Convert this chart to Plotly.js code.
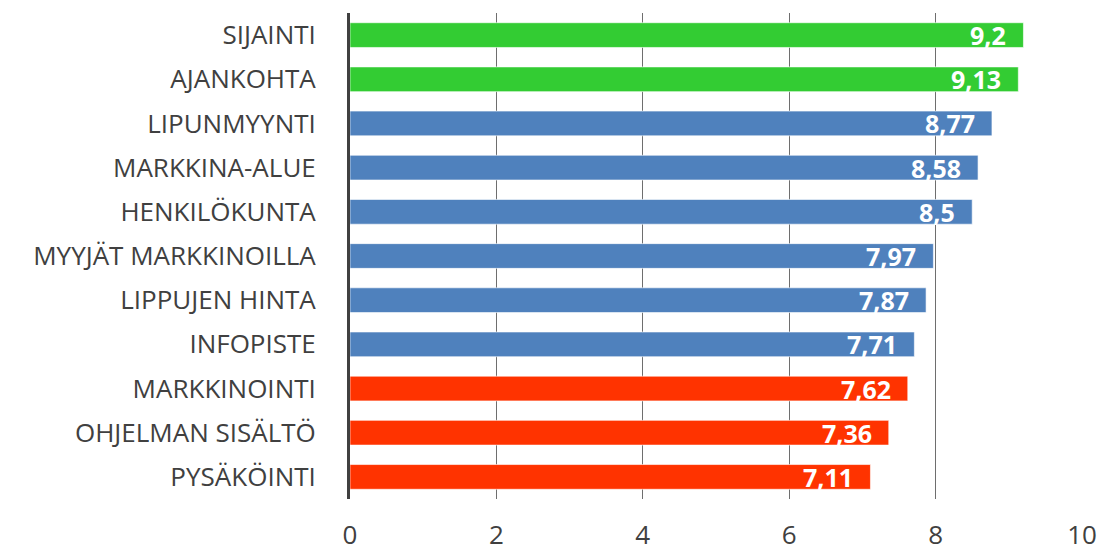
<!DOCTYPE html>
<html>
<head>
<meta charset="utf-8">
<script src="https://cdn.plot.ly/plotly-3.0.1.min.js"></script>
<style>
  html, body { margin: 0; padding: 0; background: #fff; }
  #chart { width: 1101px; height: 550px; }
</style>
</head>
<body>
<div id="chart"></div>
<script>
// Survey ratings per attribute (scale 0–10), top to bottom
const categories = [
  "SIJAINTI", "AJANKOHTA", "LIPUNMYYNTI", "MARKKINA-ALUE", "HENKILÖKUNTA",
  "MYYJÄT MARKKINOILLA", "LIPPUJEN HINTA", "INFOPISTE", "MARKKINOINTI",
  "OHJELMAN SISÄLTÖ", "PYSÄKÖINTI"
];
const scores = [9.2, 9.13, 8.77, 8.58, 8.5, 7.97, 7.87, 7.71, 7.62, 7.36, 7.11];
const valueLabels = ["9,2", "9,13", "8,77", "8,58", "8,5", "7,97", "7,87", "7,71", "7,62", "7,36", "7,11"];
const groups = ["top", "top", "mid", "mid", "mid", "mid", "mid", "mid", "low", "low", "low"];
const xTicks = [0, 2, 4, 6, 8, 10];

const groupColors = { top: "#33CC33", mid: "#4F81BD", low: "#FF3300" };
const FONT = "'Open Sans', Lato, sans-serif";

const trace = {
  type: "bar",
  orientation: "h",
  y: categories,
  x: scores,
  marker: {
    color: groups.map(g => groupColors[g]),
    line: { color: "rgba(255,255,255,0.6)", width: 1 }
  },
  width: 0.56,
  hoverinfo: "none"
};

// Value labels sit inside the bar end, in white bold
const valueAnnotations = categories.map((c, i) => ({
  x: scores[i],
  y: c,
  xref: "x",
  yref: "y",
  text: valueLabels[i],
  showarrow: false,
  xanchor: "right",
  yanchor: "middle",
  xshift: -15,
  yshift: 0,
  font: { family: FONT, size: 25, color: "#ffffff", weight: "bold" }
}));

const layout = {
  width: 1101,
  height: 550,
  margin: { l: 350, r: 19, t: 13, b: 51, pad: 0 },
  paper_bgcolor: "#ffffff",
  plot_bgcolor: "#ffffff",
  showlegend: false,
  font: { family: FONT, color: "#404040" },
  xaxis: {
    range: [0, 10],
    tickvals: xTicks,
    ticktext: xTicks.map(String),
    showgrid: true,
    gridcolor: "#6e6e6e",
    gridwidth: 1,
    zeroline: false,
    showline: false,
    ticks: "",
    ticklabelstandoff: 18,
    tickfont: { family: FONT, size: 26, color: "#404040" },
    fixedrange: true
  },
  yaxis: {
    type: "category",
    autorange: "reversed",
    showgrid: false,
    zeroline: false,
    showline: true,
    linecolor: "#404040",
    linewidth: 3,
    ticks: "",
    ticklabelstandoff: 26,
    tickfont: { family: FONT, size: 26, color: "#404040" },
    fixedrange: true
  },
  annotations: valueAnnotations,
  bargap: 0.44
};

Plotly.newPlot("chart", [trace], layout, { displayModeBar: false, staticPlot: true });
</script>
</body>
</html>
